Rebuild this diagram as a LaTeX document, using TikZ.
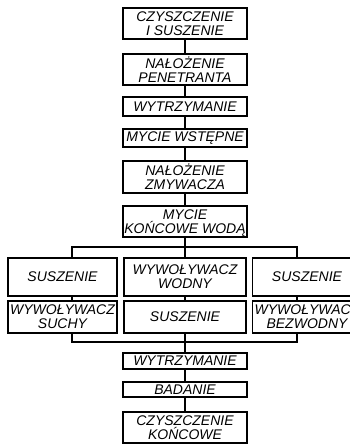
\documentclass[tikz,border=0pt]{standalone}
\usepackage{fontspec}
\setmainfont{Liberation Sans}
\usetikzlibrary{positioning,calc}

\begin{document}
\begin{tikzpicture}[x=1pt,y=-1pt,on grid,
  font=\fontsize{14}{14}\selectfont\itshape,
  box/.style={draw,line width=1.6pt,align=center,inner sep=0pt,minimum width=124pt,minimum height=31pt},
  sidebox/.style={box,minimum width=109pt},
  link/.style={line width=2pt},
  bus/.style={line width=1.3pt}]
\clip (0,0) rectangle (350,444);
% main column
\node[box] (b1) at (185,23.5) {CZYSZCZENIE\\I SUSZENIE};
\node[box,below=46pt of b1] (b2) {NAŁOŻENIE\\PENETRANTA};
\node[box,minimum height=19pt,below=37pt of b2] (b3) {WYTRZYMANIE};
\node[box,minimum height=18pt,below=31.5pt of b3] (b4) {MYCIE WSTĘPNE};
\node[box,minimum height=32pt,below=39pt of b4] (b5) {NAŁOŻENIE\\ZMYWACZA};
\node[box,below=44.5pt of b5] (b6) {MYCIE\\KOŃCOWE WOD\smash{Ą}};
% three branches
\node[box,minimum width=122pt,minimum height=38pt,below=55.5pt of b6] (w1) {WYWOŁYWACZ\\WODNY};
\node[sidebox,minimum height=38pt,left=122.5pt of w1] (s1) {SUSZENIE};
\node[sidebox,minimum height=38pt,right=122pt of w1] (s2) {SUSZENIE};
\node[box,minimum width=122pt,minimum height=32pt,below=40pt of w1] (w2) {SUSZENIE};
\node[sidebox,minimum height=32pt,left=122.5pt of w2] (d1) {WYWOŁYWACZ\\SUCHY};
\node[sidebox,minimum height=32pt,right=122pt of w2] (d2) {WYWOŁYWACZ\\BEZWODNY};
% closing steps
\node[box,minimum height=16pt,below=44pt of w2] (b7) {WYTRZYMANIE};
\node[box,minimum height=15pt,below=28.5pt of b7] (b8) {BADANIE};
\node[box,below=38pt of b8] (b9) {CZYSZCZENIE\\KOŃCOWE};
% bus points
\coordinate (upL) at (72,247);
\coordinate (upC) at (185,247);
\coordinate (upR) at (297,247);
\coordinate (loL) at (72,342);
\coordinate (loC) at (185,342);
\coordinate (loR) at (297,342);

\draw[link] (b1) -- (b2);
\draw[link] (b2) -- (b3);
\draw[link] (b3) -- (b4);
\draw[link] (b4) -- (b5);
\draw[link] (b5) -- (b6);
\draw[link] (b6) -- (upC);
\draw[bus] (upL |- s1.north) -- (upL) -- (upR) -- (upR |- s2.north);
\draw[link] (upC) -- (w1);
\draw[link] (s1.south -| upL) -- (d1.north -| upL);
\draw[link] (w1) -- (w2);
\draw[link] (s2.south -| upR) -- (d2.north -| upR);
\draw[bus] (d1.south -| loL) -- (loL) -- (loR) -- (d2.south -| loR);
\draw[link] (w2) -- (loC);
\draw[link] (loC) -- (b7);
\draw[link] (b7) -- (b8);
\draw[link] (b8) -- (b9);
\end{tikzpicture}
\end{document}
